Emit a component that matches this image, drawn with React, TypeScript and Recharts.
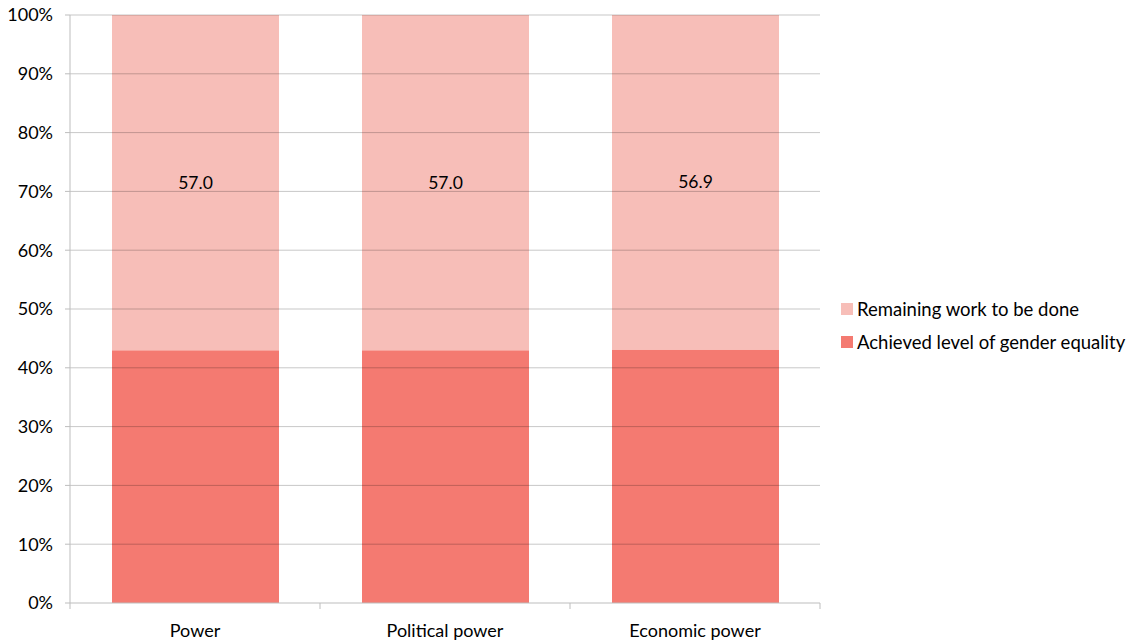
import { Bar, BarChart, LabelList, ReferenceLine, XAxis, YAxis, Legend } from "recharts";

const categories = ["Power", "Political power", "Economic power"];
const achieved = [43.0, 43.0, 43.1];
const remaining = [57.0, 57.0, 56.9];
const yTicks = [0, 10, 20, 30, 40, 50, 60, 70, 80, 90, 100];

const data = categories.map((name, i) => ({ name, achieved: achieved[i], remaining: remaining[i] }));

const FONT = "Lato, 'Open Sans', sans-serif";
const LIGHT = "#f7beb8";
const DARK = "#f47a71";
const AXIS = "#bdbdbd";
const TICK_GAP = 21; // tickSize + tickMargin on the x axis

function LegendBox() {
  const items = [
    { label: "Remaining work to be done", color: LIGHT },
    { label: "Achieved level of gender equality", color: DARK },
  ];
  return (
    <div style={{ fontFamily: FONT, fontSize: 18.5, color: "#000" }}>
      {items.map((it) => (
        <div key={it.label} style={{ display: "flex", alignItems: "center", height: 33 }}>
          <span style={{ width: 12, height: 12, background: it.color, marginRight: 4, display: "inline-block" }} />
          <span>{it.label}</span>
        </div>
      ))}
    </div>
  );
}

// category label plus Excel-style tick marks between categories
function CatTick(props: any) {
  const { x, y, payload, width, visibleTicksCount, index } = props;
  const half = width / visibleTicksCount / 2;
  const axisY = y - TICK_GAP;
  const last = index === visibleTicksCount - 1;
  return (
    <g>
      <line x1={x - half} x2={x - half} y1={axisY} y2={axisY + 6} stroke={AXIS} />
      {last && <line x1={x + half} x2={x + half} y1={axisY} y2={axisY + 6} stroke={AXIS} />}
      <text x={x} y={y} dy="0.71em" textAnchor="middle" fill="#000" fontSize={18} fontFamily={FONT}>
        {payload.value}
      </text>
    </g>
  );
}

export default function App() {
  return (
    <div style={{ position: "absolute", left: 0, top: 0, background: "#fff" }}>
      <BarChart width={1128} height={641} data={data} margin={{ top: 15, right: 308, bottom: 0, left: 10 }}>
        <XAxis
          dataKey="name"
          height={38}
          tickLine={false}
          axisLine={{ stroke: AXIS, strokeWidth: 1 }}
          tick={<CatTick />}
          tickSize={6}
          tickMargin={15}
        />
        <YAxis
          width={60}
          domain={[0, 100]}
          ticks={yTicks}
          interval={0}
          tickFormatter={(v) => `${v}%`}
          axisLine={{ stroke: AXIS, strokeWidth: 1 }}
          tickLine={{ stroke: AXIS }}
          tickSize={5}
          tickMargin={12}
          tick={{ fill: "#000", fontSize: 18, fontFamily: FONT }}
        />
        <Bar dataKey="achieved" stackId="a" fill={DARK} barSize={167} isAnimationActive={false} />
        <Bar dataKey="remaining" stackId="a" fill={LIGHT} barSize={167} isAnimationActive={false}>
          <LabelList
            dataKey="remaining"
            position="center"
            formatter={(v: number) => v.toFixed(1)}
            style={{ fill: "#000", fontSize: 17.5, fontFamily: FONT }}
          />
        </Bar>
        {yTicks.slice(1).map((t) => (
          <ReferenceLine key={t} y={t} stroke="#000" strokeOpacity={0.22} strokeWidth={1} />
        ))}
        <Legend
          layout="vertical"
          align="center"
          verticalAlign="middle"
          wrapperStyle={{ left: 841, top: 292, width: 287 }}
          content={() => <LegendBox />}
        />
      </BarChart>
    </div>
  );
}
